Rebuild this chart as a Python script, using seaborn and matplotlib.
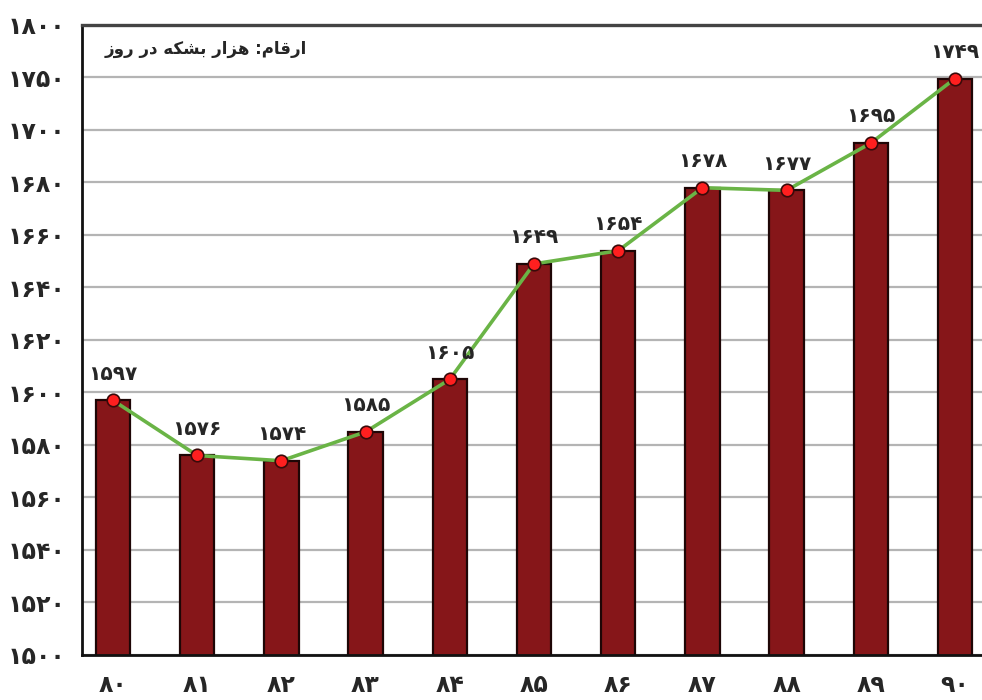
import numpy as np
import seaborn as sns
import matplotlib.pyplot as plt

# data (years 1380..1390, thousand barrels per day)
years = ['۸۰', '۸۱', '۸۲', '۸۳', '۸۴', '۸۵', '۸۶', '۸۷', '۸۸', '۸۹', '۹۰']
values = [1597, 1576, 1574, 1585, 1605, 1649, 1654, 1678, 1677, 1695, 1749]
ytick_vals = [1500, 1520, 1540, 1560, 1580, 1600, 1620, 1640, 1660, 1680, 1700, 1750, 1800]
unit_text = 'ارقام: هزار بشکه در روز'

BAR = '#861619'
GREEN = '#6ab446'
RED = '#ff1f1f'

FA_DIGITS = str.maketrans('0123456789', '۰۱۲۳۴۵۶۷۸۹')


def fa(n):
    return str(n).translate(FA_DIGITS)


# tiny shaper for the letters used here: (isolated, final, initial, medial)
FORMS = {
    'ا': ('\uFE8D', '\uFE8E', None, None),
    'ر': ('\uFEAD', '\uFEAE', None, None),
    'ز': ('\uFEAF', '\uFEB0', None, None),
    'د': ('\uFEA9', '\uFEAA', None, None),
    'و': ('\uFEED', '\uFEEE', None, None),
    'ق': ('\uFED5', '\uFED6', '\uFED7', '\uFED8'),
    'م': ('\uFEE1', '\uFEE2', '\uFEE3', '\uFEE4'),
    'ه': ('\uFEE9', '\uFEEA', '\uFEEB', '\uFEEC'),
    'ب': ('\uFE8F', '\uFE90', '\uFE91', '\uFE92'),
    'ش': ('\uFEB5', '\uFEB6', '\uFEB7', '\uFEB8'),
    'ک': ('\uFB8E', '\uFB8F', '\uFB90', '\uFB91'),
}


def shape(s):
    out = []
    for i, ch in enumerate(s):
        if ch not in FORMS:
            out.append(ch)
            continue
        prev = s[i - 1] if i > 0 else ''
        nxt = s[i + 1] if i + 1 < len(s) else ''
        joins_prev = prev in FORMS and FORMS[prev][2] is not None
        joins_next = nxt in FORMS and FORMS[ch][2] is not None
        f = FORMS[ch]
        if joins_prev and joins_next:
            out.append(f[3])
        elif joins_prev:
            out.append(f[1])
        elif joins_next:
            out.append(f[2])
        else:
            out.append(f[0])
    return ''.join(out)[::-1]


# broken axis: 20 per grid step up to 1700, then 50 per step
def fwd(y):
    y = np.asarray(y, dtype=float)
    return np.where(y <= 1700, (y - 1500) / 20.0, 10 + (y - 1700) / 50.0)


def inv(u):
    u = np.asarray(u, dtype=float)
    return np.where(u <= 10, 1500 + 20.0 * u, 1700 + 50.0 * (u - 10))


sns.set_style('white')
plt.rcParams['font.family'] = ['DejaVu Sans']

fig = plt.figure(figsize=(9.82, 7.0), dpi=100)
ax = fig.add_axes([0.0835, 0.0643, 0.9267, 0.9])
ax.set_yscale('function', functions=(fwd, inv))

sns.barplot(x=years, y=values, color=BAR, saturation=1, width=0.41,
            edgecolor='#1e0606', linewidth=1.6, ax=ax, zorder=2)
pos = np.arange(len(years))
sns.lineplot(x=pos, y=values, color=GREEN, linewidth=2.6, marker='o',
             markersize=9, markerfacecolor=RED, markeredgecolor='#3a0a0a',
             markeredgewidth=1.2, ax=ax, zorder=4)

for p, v in zip(pos, values):
    ax.annotate(fa(v), (p, v), xytext=(0, 12), textcoords='offset points',
                ha='center', va='bottom', fontsize=14.5, fontweight='bold', zorder=5)

ax.set_ylim(1500, 1800)
ax.set_xlim(-0.368, 10.44)
ax.set_yticks(ytick_vals)
ax.set_yticklabels([fa(t) for t in ytick_vals], fontsize=17, fontweight='bold')
ax.set_xticks(pos)
ax.set_xticklabels(years, fontsize=17, fontweight='bold')
ax.tick_params(axis='both', length=0)
ax.tick_params(axis='x', pad=13)
ax.tick_params(axis='y', pad=12)
ax.grid(axis='y', color='#b4b4b4', linewidth=1.6, zorder=0)
ax.set_axisbelow(True)
ax.set_xlabel('')
ax.set_ylabel('')

for s in ['left', 'bottom']:
    ax.spines[s].set_color('#111111')
    ax.spines[s].set_linewidth(2)
ax.spines['top'].set_color('#444444')
ax.spines['top'].set_linewidth(2.4)
ax.spines['right'].set_visible(False)

ax.text(0.247, 0.962, shape(unit_text), transform=ax.transAxes, ha='right',
        va='center', fontsize=12, fontweight='bold')

plt.savefig('out.png', dpi=100)
